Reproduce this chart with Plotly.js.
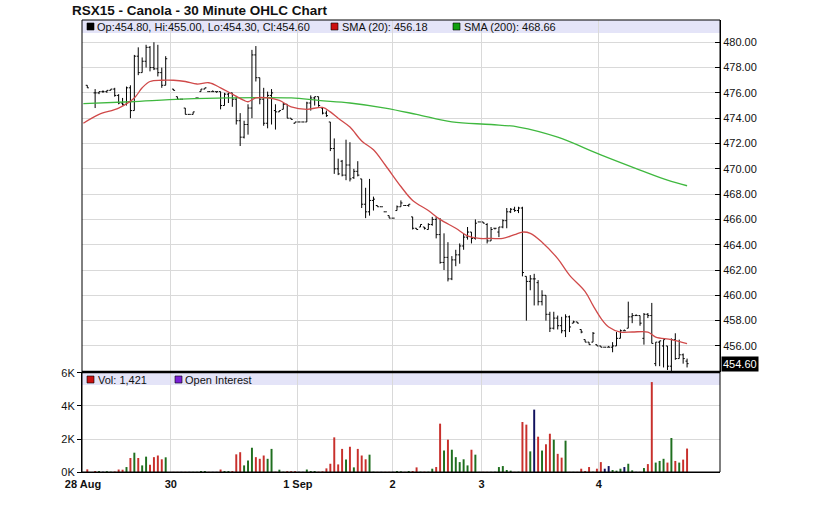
<!DOCTYPE html>
<html>
<head>
<meta charset="utf-8">
<script src="https://cdn.plot.ly/plotly-3.0.1.min.js"></script>
<style>
  html, body { margin: 0; padding: 0; background: #ffffff; }
  #chart { width: 823px; height: 509px; }
</style>
</head>
<body>
<div id="chart"></div>
<script>
// ---------- DATA ----------
const chartTitle = "RSX15 - Canola - 30 Minute OHLC Chart";

// 30-minute bar slot index (sessions with gaps)
const slots = [0,2,3,4,5,6,7,8,9,10,11,12,13,14,15,16,17,18,19,20,
  22,23,24,25,26,27,28,29,30,31,32,33,34,35,36,37,38,39,40,41,42,43,44,45,46,47,48,49,50,
  51,52,53,54,55,56,57,58,59,60,61,62,63,64,65,66,67,68,69,70,71,72,73,74,75,76,77,78,79,80,
  81,82,83,84,85,86,87,88,89,90,91,92,93,94,95,96,97,98,99,100,101,102,103,104,105,106,107,108,109,110,
  111,112,113,114,115,116,117,118,119,120,121,122,123,124,125,126,127,128,129,130,131,132,133,134,135,136,137,138,139,140,
  141,142,143,144,145,146,147,148,149,150,151,152,153];

const opens = [476.6,476.0,476.0,476.1,476.1,476.2,476.3,475.8,475.2,475.1,476.4,474.6,478.9,477.6,478.5,479.6,478.0,477.9,477.6,476.6,
  476.3,475.7,475.5,474.8,474.3,474.3,475.6,476.1,476.3,476.1,476.1,476.1,476.1,475.0,475.9,476.0,475.5,473.8,472.5,473.5,474.8,479.0,477.2,475.5,473.6,475.8,474.6,474.5,474.7,
  475.1,474.0,473.6,473.7,473.7,473.7,475.2,475.6,475.7,474.8,474.4,473.7,471.6,470.0,470.6,469.5,470.3,469.3,469.8,469.2,467.2,466.6,467.5,467.1,467.0,466.6,466.3,466.1,466.7,467.0,
  467.1,467.1,466.2,465.3,465.4,465.4,465.2,465.6,466.0,464.8,462.6,463.0,461.3,462.8,463.2,463.9,464.6,465.0,464.5,465.8,465.8,465.6,464.3,465.3,465.0,465.4,465.9,466.6,466.8,466.7,
  466.9,461.5,461.1,461.3,461.0,459.5,460.0,458.5,457.4,458.2,457.6,457.2,458.3,457.8,457.9,457.3,456.5,456.3,456.3,456.1,456.0,455.9,455.9,455.9,456.0,456.6,457.2,457.4,458.3,458.4,
  458.4,456.6,458.5,458.4,454.6,456.3,456.0,456.0,454.4,456.5,455.0,455.3,454.8];

const highs = [476.6,476.3,476.1,476.2,476.2,476.3,476.4,475.9,475.6,476.5,476.6,479.0,479.6,478.8,479.8,479.7,480.0,479.8,478.0,478.9,
  476.3,475.7,475.5,474.8,474.3,474.5,475.6,476.3,476.4,476.1,476.2,476.1,476.1,476.0,476.0,476.0,475.7,474.4,473.8,475.1,479.4,479.7,477.2,476.4,476.1,476.3,475.1,474.6,475.2,
  475.1,474.0,473.7,473.7,473.7,475.3,475.8,475.7,475.7,474.8,474.6,473.7,472.4,470.8,470.7,472.3,472.1,470.0,470.6,469.2,468.5,469.2,467.8,467.1,467.0,466.6,466.3,466.1,467.1,467.5,
  467.1,467.2,466.2,465.3,465.6,465.4,465.7,466.2,466.2,466.1,464.9,464.2,463.1,463.6,464.1,464.9,465.4,465.0,466.0,465.8,465.8,465.7,465.4,465.3,465.4,466.0,466.9,466.9,467.0,467.0,
  467.0,461.5,461.6,461.7,461.2,460.4,460.0,458.7,458.7,458.4,458.3,458.5,458.4,458.0,457.9,457.3,456.5,456.3,457.1,456.1,456.0,455.9,456.0,456.3,457.1,457.3,457.3,459.5,458.6,458.5,
  458.4,458.6,458.6,459.4,456.3,456.4,456.5,456.0,456.6,457.0,456.5,455.4,455.0];

const lows = [476.4,474.8,475.9,476.0,476.0,476.2,475.7,475.1,475.0,475.0,474.0,474.6,477.4,477.6,478.0,477.7,477.8,477.3,476.4,476.6,
  476.2,475.5,475.5,474.3,474.3,474.3,475.6,476.1,476.3,476.1,476.1,476.0,474.7,475.0,475.2,474.9,473.5,471.8,472.4,472.7,474.0,476.9,475.1,473.4,473.2,473.5,473.1,474.5,474.7,
  474.0,473.9,473.6,473.7,473.7,473.7,474.6,475.0,474.9,474.3,474.1,471.4,469.6,469.5,469.4,469.1,469.0,469.2,469.4,466.9,466.1,466.3,466.7,467.0,467.0,466.6,466.1,466.1,466.7,467.0,
  467.1,467.0,465.2,465.2,465.4,465.2,465.2,465.5,464.5,462.5,462.0,461.1,461.2,462.3,462.5,463.6,464.4,464.1,464.4,465.8,465.7,464.1,464.3,465.2,464.6,465.3,465.3,466.5,466.6,466.5,
  461.5,458.0,460.4,459.2,459.2,459.2,458.0,457.1,457.3,457.3,457.0,456.7,457.1,457.8,457.8,457.0,456.3,456.1,456.3,456.0,455.9,455.9,455.9,455.5,456.0,456.6,457.2,457.4,457.8,458.4,
  457.6,456.1,458.2,456.2,454.4,454.4,454.3,454.1,454.0,454.9,455.0,454.6,454.3];

const closes = [476.4,476.0,476.1,476.1,476.2,476.3,475.8,475.2,475.1,476.4,474.6,478.9,477.6,478.5,479.6,478.0,477.9,477.6,476.6,478.7,
  476.2,475.5,475.5,474.3,474.3,474.5,475.6,476.3,476.4,476.1,476.1,476.1,475.0,475.9,476.0,475.5,473.8,472.5,473.5,474.8,479.0,477.2,475.5,473.6,475.8,476.0,474.5,474.6,475.1,
  474.0,473.9,473.7,473.7,473.7,475.2,475.6,475.7,475.0,474.4,474.2,471.6,470.0,469.6,469.5,470.3,469.2,469.8,469.5,467.2,466.6,467.5,467.6,467.0,467.0,466.6,466.1,466.1,467.0,467.3,
  467.1,467.2,465.3,465.2,465.6,465.3,465.6,466.0,464.8,462.6,463.0,461.3,462.8,463.2,463.9,464.6,465.0,464.5,465.7,465.8,465.7,464.3,465.2,465.3,465.4,465.9,466.6,466.8,466.7,466.9,
  461.8,461.1,461.3,461.3,459.5,460.0,458.5,457.4,458.2,457.6,457.2,458.3,457.5,457.9,457.8,457.1,456.3,456.1,457.0,456.0,455.9,455.9,455.9,456.0,456.6,457.2,457.2,458.3,458.4,458.4,
  457.8,458.5,458.4,456.2,456.3,456.4,456.5,454.4,456.5,455.0,455.3,455.0,454.6];

const volumes = [160,60,60,20,50,20,30,150,140,300,850,1170,850,400,930,440,900,1000,770,890,
  10,10,10,10,10,10,10,60,60,10,10,10,150,60,60,60,1070,1200,400,700,1470,900,800,1000,800,1400,20,140,20,
  50,50,50,10,10,150,60,60,20,40,220,500,2100,460,1400,750,1530,280,1400,1000,770,1050,20,10,10,10,10,10,60,40,
  10,60,60,280,20,20,20,200,300,2930,1300,1960,1350,900,600,770,400,1350,1050,10,10,10,10,10,300,360,120,80,10,20,
  3030,2870,1250,3780,2140,1300,1680,2320,1960,1100,870,1900,10,10,10,200,60,300,20,200,600,200,360,120,80,200,300,500,100,10,
  10,240,480,5450,570,670,800,570,2060,670,570,750,1421];

const smaSlots20 = [-1,3,8,12,14,16,19,22,25,28,31,34,37,40,41,43,46,49,52,56,60,62,64,67,70,73,76,80,83,87,90,94,97,100,103,106,109,111,113,116,120,123,127,129,131,133,136,139,143,145,149,153];
const sma20 = [473.6,474.3,474.8,475.6,476.4,476.9,477.0,477.0,476.9,476.7,476.8,476.4,475.9,475.4,475.3,475.6,475.6,475.4,474.9,474.7,474.85,474.5,474.0,473.3,472.2,471.5,470.3,468.6,467.5,466.7,466.0,465.3,464.7,464.5,464.5,464.5,464.8,465.0,464.9,464.2,462.9,461.6,460.3,459.2,458.2,457.5,457.1,457.1,457.1,456.7,456.5,456.18];
const smaSlots200 = [-1,11,24,36,52,59,67,76,84,93,103,110,120,131,141,148,153];
const sma200 = [475.15,475.3,475.5,475.6,475.6,475.4,475.2,474.8,474.3,473.7,473.5,473.3,472.5,471.1,469.9,469.1,468.66];

const dayLabels = ["28 Aug","30","1 Sep","2","3","4"];
const daySlots = [-1.1,21.3,53.7,77.9,100.6,130.5];

const priceTicks = [456,458,460,462,464,466,468,470,472,474,476,478,480];
const volTicks = [0,2000,4000,6000];
const volTickText = ["0K","2K","4K","6K"];

// ---------- LAYOUT GEOMETRY ----------
const W = 823, H = 509, ML = 82, MR = 103, MT = 20, MB = 37;
const PW = W - ML - MR, PH = H - MT - MB;
const xp = px => (px - ML) / PW;
const yp = py => (H - MB - py) / PH;
const splitY = yp(372);

const RED = '#c8302c', GREEN = '#1f6f1f', NAVY = '#12125e';
const volColors = closes.map((c, i) => {
  const prev = i === 0 ? opens[0] : closes[i - 1];
  return c > prev ? GREEN : (c < prev ? RED : NAVY);
});

const n = slots.length - 1;
const fmt2 = v => v.toFixed(2);
const legendOHLC = `Op:${fmt2(opens[n])}, Hi:${fmt2(highs[n])}, Lo:${fmt2(lows[n])}, Cl:${fmt2(closes[n])}`;
const legendS20 = `SMA (20): ${fmt2(sma20[sma20.length-1])}`;
const legendS200 = `SMA (200): ${fmt2(sma200[sma200.length-1])}`;
const legendVol = `Vol: ${volumes[n].toLocaleString('en-US')}`;

const FONT = 'Liberation Sans, Arial, sans-serif';

const traces = [
  { type: 'scatter', mode: 'lines', x: smaSlots200, y: sma200, xaxis: 'x', yaxis: 'y',
    line: { color: '#3fb83f', width: 1.3, shape: 'spline' }, hoverinfo: 'skip' },
  { type: 'scatter', mode: 'lines', x: smaSlots20, y: sma20, xaxis: 'x', yaxis: 'y',
    line: { color: '#d04a4a', width: 1.3, shape: 'spline' }, hoverinfo: 'skip' },
  { type: 'ohlc', x: slots, open: opens, high: highs, low: lows, close: closes,
    xaxis: 'x', yaxis: 'y', tickwidth: 0.4,
    increasing: { line: { color: '#000000', width: 1 } },
    decreasing: { line: { color: '#000000', width: 1 } }, hoverinfo: 'skip' },
  { type: 'bar', x: slots, y: volumes, xaxis: 'x', yaxis: 'y2', width: 0.5,
    marker: { color: volColors, line: { width: 0 } }, hoverinfo: 'skip' }
];

function sq(px, py, color) {
  return { type: 'rect', xref: 'paper', yref: 'paper',
    x0: xp(px), x1: xp(px + 7), y0: yp(py + 7), y1: yp(py),
    fillcolor: color, line: { color: '#000', width: 0.6 }, layer: 'above' };
}
function txt(px, py, text, opts = {}) {
  return Object.assign({ xref: 'paper', yref: 'paper', x: xp(px), y: yp(py),
    xanchor: 'left', yanchor: 'middle', text: text, showarrow: false,
    font: { family: FONT, size: 11, color: '#111' } }, opts);
}

const layout = {
  width: W, height: H,
  margin: { l: ML, r: MR, t: MT, b: MB, pad: 0 },
  paper_bgcolor: '#ffffff', plot_bgcolor: 'rgba(0,0,0,0)',
  showlegend: false,
  title: { text: chartTitle, x: 72 / W, xanchor: 'left', xref: 'container',
    y: 1 - 10 / H, yanchor: 'middle', yref: 'container',
    font: { family: FONT, size: 13.5, weight: 'bold', color: '#111' } },
  xaxis: { anchor: 'y2', range: [-1.35, 161.4], tickmode: 'array', tickvals: daySlots, ticktext: dayLabels,
    showgrid: true, gridcolor: '#d9d9d9', gridwidth: 1, zeroline: false, ticks: '',
    ticklabelstandoff: 2,
    showline: true, linecolor: '#000', linewidth: 1,
    tickfont: { family: FONT, size: 11, weight: 'bold', color: '#111' },
    rangeslider: { visible: false }, fixedrange: true },
  yaxis: { domain: [splitY, 1], range: [453.94, 481.76], side: 'right', tickmode: 'array',
    tickvals: priceTicks, ticktext: priceTicks.map(v => v.toFixed(2)),
    ticks: 'inside', ticklen: 5, tickcolor: '#000', showline: true, linecolor: '#000', linewidth: 1,
    showgrid: true, gridcolor: '#d9d9d9', zeroline: false,
    tickfont: { family: FONT, size: 11, color: '#111' }, fixedrange: true },
  yaxis2: { domain: [0, splitY], range: [0, 6060], side: 'left', tickmode: 'array',
    tickvals: volTicks, ticktext: volTickText, ticks: 'outside', ticklen: 4, tickcolor: '#000',
    showline: true, linecolor: '#000', linewidth: 1,
    showgrid: true, gridcolor: '#d9d9d9', zeroline: false,
    tickfont: { family: FONT, size: 11, color: '#111' }, fixedrange: true },
  shapes: [
    { type: 'rect', xref: 'paper', yref: 'paper', x0: 0, x1: 1, y0: yp(33), y1: 1,
      fillcolor: '#e4e4f8', line: { width: 0 }, layer: 'below' },
    { type: 'rect', xref: 'paper', yref: 'paper', x0: 0, x1: 1, y0: yp(385), y1: splitY,
      fillcolor: '#e4e4f8', line: { width: 0 }, layer: 'below' },
    { type: 'rect', xref: 'paper', yref: 'paper', x0: 0, x1: 1, y0: 0, y1: 1,
      line: { color: '#000', width: 1 }, fillcolor: 'rgba(0,0,0,0)', layer: 'above' },
    { type: 'line', xref: 'paper', yref: 'paper', x0: 0, x1: 1, y0: splitY, y1: splitY,
      line: { color: '#000', width: 2.5 }, layer: 'above' },
    sq(87, 23, '#000000'),
    sq(331, 23, '#cc1010'),
    sq(453, 23, '#10a010'),
    sq(87, 376, '#cc1010'),
    sq(175, 376, '#7a1fd6')
  ],
  annotations: [
    txt(95, 26.5, legendOHLC),
    txt(340, 26.5, legendS20),
    txt(462, 26.5, legendS200),
    txt(96, 379.5, legendVol),
    txt(183, 379.5, 'Open Interest'),
    { xref: 'paper', yref: 'y', x: 1, y: closes[n], xanchor: 'left', yanchor: 'middle',
      xshift: 1, text: closes[n].toFixed(2), showarrow: false, bgcolor: '#000000', borderpad: 1,
      font: { family: FONT, size: 11, color: '#ffffff' } }
  ]
};

Plotly.newPlot('chart', traces, layout, { staticPlot: true, displayModeBar: false });
</script>
</body>
</html>
